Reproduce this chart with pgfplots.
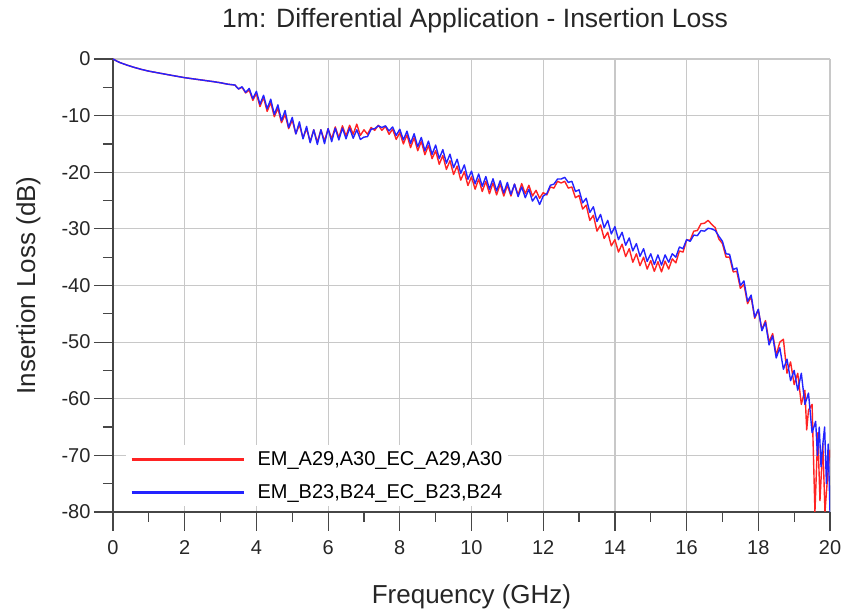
\documentclass[border=0pt]{standalone}
\usepackage{pgfplots}
\pgfplotsset{compat=1.18}
\usepackage{fontspec}
\setmainfont{Liberation Sans}
\definecolor{myred}{RGB}{255,35,35}
\definecolor{myblue}{RGB}{35,35,255}
\definecolor{gridgray}{RGB}{200,200,200}
\definecolor{axgray}{RGB}{70,70,70}
\begin{document}
\begin{tikzpicture}
\begin{axis}[
 scale only axis, width=717pt, height=453pt,
 xmin=0,xmax=20,ymin=-80,ymax=0,
 axis x line=bottom, axis y line=left,
 axis line style={-, line width=1.5pt, axgray},
 xtick={0,2,...,20}, ytick={-80,-70,...,0},
 minor x tick num=1, minor y tick num=1,
 tick align=outside, major tick length=19pt, minor tick length=10pt,
 tick style={axgray, line width=1.2pt},
 grid=major, major grid style={gridgray, line width=1.2pt},
 ticklabel style={font=\fontsize{20}{24}\selectfont, text=black!85},
 xticklabel style={yshift=-6pt},
 /pgf/number format/assume math mode=true,
 xlabel={Frequency (GHz)}, ylabel={Insertion Loss (dB)},
 label style={font=\fontsize{26}{31}\selectfont, text=black!85},
 xlabel style={at={(axis description cs:0.5,-0.188)}, anchor=center},
 ylabel style={at={(axis description cs:-0.118,0.5)}, anchor=center},
 title={1m: Differential Application - Insertion Loss},
 title style={at={(axis description cs:0.505,1.072)}, anchor=center, font=\fontsize{26.5}{31}\selectfont, text=black!85},
 legend style={at={(axis description cs:0.018,0.012)}, anchor=south west, draw=none, fill=white,
   font=\fontsize{20}{24}\selectfont, row sep=14pt, inner sep=4pt},
 legend cell align=left,
 legend image code/.code={\draw[#1, line width=3pt] (0pt,0pt) -- (112pt,0pt); \path[draw=none, fill=none] (0pt,0pt) rectangle (124pt,0.1pt);},
 line join=round,
]
\addplot[myred, line width=1.4pt] table {
0 0
0.1 -0.35
0.2 -0.65
0.4 -1.1
0.6 -1.5
0.8 -1.85
1.0 -2.15
1.3 -2.5
1.6 -2.85
2.0 -3.3
2.4 -3.65
2.8 -4.0
3.0 -4.2
3.2 -4.45
3.4 -4.6
3.5 -5.3
3.6 -5.0
3.7 -6.0
3.8 -5.5
3.9 -7.3
4.0 -6.1
4.1 -8.4
4.2 -6.8
4.3 -9.25
4.4 -7.7
4.5 -10.2
4.6 -8.7
4.7 -11.25
4.8 -9.8
4.9 -12.3
5.0 -10.8
5.1 -13.2
5.2 -11.6
5.3 -13.95
5.4 -12.3
5.5 -14.6
5.6 -12.5
5.7 -14.7
5.8 -12.5
5.9 -14.5
6.0 -12.3
6.1 -14.1
6.2 -12.0
6.3 -13.9
6.4 -11.8
6.5 -13.6
6.6 -11.7
6.7 -13.3
6.8 -11.5
6.9 -13.5
7.0 -12.5
7.1 -13.3
7.2 -12.1
7.3 -12.6
7.4 -11.7
7.5 -12.6
7.6 -11.9
7.7 -13.3
7.8 -12.4
7.9 -14.2
8.0 -13.0
8.1 -15.0
8.2 -13.4
8.3 -15.65
8.4 -13.9
8.5 -16.2
8.6 -14.55
8.7 -16.9
8.8 -15.25
8.9 -17.6
9.0 -16.2
9.1 -18.6
9.2 -17.05
9.3 -19.5
9.4 -17.95
9.5 -20.4
9.6 -18.9
9.7 -21.4
9.8 -19.9
9.9 -22.35
10.0 -20.8
10.1 -23.0
10.2 -21.2
10.3 -23.4
10.4 -21.6
10.5 -23.8
10.6 -21.9
10.7 -24.0
10.8 -22.1
10.9 -24.2
11.0 -22.3
11.1 -24.2
11.2 -22.1
11.3 -24.0
11.4 -22.0
11.5 -23.8
11.6 -22.3
11.7 -24.2
11.8 -23.2
11.9 -24.6
12.0 -23.6
12.1 -24.0
12.2 -22.6
12.3 -22.8
12.4 -21.6
12.5 -21.9
12.6 -21.6
12.7 -22.8
12.8 -22.6
12.9 -24.5
13.0 -24.1
13.1 -26.5
13.2 -25.8
13.3 -28.5
13.4 -27.6
13.5 -30.4
13.6 -29.3
13.7 -31.7
13.8 -30.6
13.9 -33.0
14.0 -31.9
14.1 -34.1
14.2 -32.7
14.3 -34.9
14.4 -33.5
14.5 -35.9
14.6 -34.4
14.7 -36.5
14.8 -35.0
14.9 -37.1
15.0 -35.6
15.1 -37.5
15.2 -35.8
15.3 -37.6
15.4 -35.7
15.5 -37.1
15.6 -35.3
15.7 -36.0
15.8 -33.9
15.9 -34.1
16.0 -32.0
16.1 -32.0
16.2 -30.4
16.3 -30.3
16.4 -29.1
16.5 -29.0
16.6 -28.5
16.7 -29.2
16.8 -29.8
16.9 -31.8
17.0 -32.6
17.1 -35.0
17.2 -35.0
17.3 -37.6
17.4 -37.5
17.5 -40.5
17.6 -39.8
17.7 -43.2
17.8 -42.0
17.9 -45.8
18.0 -44.3
18.1 -47.8
18.2 -46.2
18.3 -50.0
18.4 -48.5
18.5 -52.3
18.6 -50.0
18.7 -49.5
18.8 -55.5
18.9 -53.5
19.0 -57.5
19.1 -55.5
19.2 -61.0
19.3 -58.5
19.35 -65.5
19.4 -62
19.5 -61
19.58 -80
19.66 -66
19.72 -78
19.8 -68
19.86 -80
19.93 -74
20.0 -69
};
\addlegendentry{EM\_A29,A30\_EC\_A29,A30}
\addplot[myblue, line width=1.4pt] table {
0 0
0.1 -0.35
0.2 -0.65
0.4 -1.1
0.6 -1.5
0.8 -1.85
1.0 -2.15
1.3 -2.5
1.6 -2.85
2.0 -3.3
2.4 -3.65
2.8 -4.0
3.0 -4.2
3.2 -4.45
3.4 -4.6
3.5 -5.3
3.6 -4.9
3.7 -5.9
3.8 -5.2
3.9 -7.0
4.0 -5.7
4.1 -8.0
4.2 -6.4
4.3 -8.8
4.4 -7.1
4.5 -9.8
4.6 -8.1
4.7 -10.9
4.8 -9.1
4.9 -12.1
5.0 -10.3
5.1 -13.25
5.2 -11.1
5.3 -14.1
5.4 -11.9
5.5 -14.8
5.6 -12.5
5.7 -15.1
5.8 -12.5
5.9 -14.95
6.0 -12.3
6.1 -14.6
6.2 -12.2
6.3 -14.3
6.4 -12.2
6.5 -14.1
6.6 -12.2
6.7 -14.0
6.8 -12.5
6.9 -14.2
7.0 -13.8
7.1 -13.7
7.2 -12.4
7.3 -12.3
7.4 -11.8
7.5 -12.1
7.6 -11.8
7.7 -12.7
7.8 -12.0
7.9 -13.5
8.0 -12.4
8.1 -14.3
8.2 -12.75
8.3 -14.9
8.4 -13.2
8.5 -15.5
8.6 -13.85
8.7 -16.2
8.8 -14.5
8.9 -16.85
9.0 -15.2
9.1 -17.6
9.2 -16.0
9.3 -18.4
9.4 -16.8
9.5 -19.2
9.6 -17.7
9.7 -20.2
9.8 -18.7
9.9 -21.25
10.0 -19.8
10.1 -22.05
10.2 -20.3
10.3 -22.5
10.4 -20.75
10.5 -23.0
10.6 -21.15
10.7 -23.3
10.8 -21.5
10.9 -23.65
11.0 -21.8
11.1 -23.9
11.2 -22.1
11.3 -24.3
11.4 -22.6
11.5 -24.5
11.6 -23.0
11.7 -25.1
11.8 -24.2
11.9 -25.7
12.0 -24.2
12.1 -23.8
12.2 -22.3
12.3 -22.1
12.4 -21.2
12.5 -21.2
12.6 -20.9
12.7 -21.8
12.8 -21.6
12.9 -23.4
13.0 -23.1
13.1 -25.4
13.2 -24.6
13.3 -27.1
13.4 -26.1
13.5 -28.7
13.6 -27.45
13.7 -29.8
13.8 -28.5
13.9 -30.9
14.0 -29.6
14.1 -31.9
14.2 -30.6
14.3 -32.9
14.4 -31.6
14.5 -33.9
14.6 -32.6
14.7 -34.85
14.8 -33.5
14.9 -35.75
15.0 -34.4
15.1 -36.3
15.2 -34.6
15.3 -36.4
15.4 -34.6
15.5 -35.9
15.6 -34.4
15.7 -35.0
15.8 -33.2
15.9 -33.5
16.0 -31.9
16.1 -32.2
16.2 -31.1
16.3 -31.2
16.4 -30.3
16.5 -30.4
16.6 -29.9
16.7 -30.0
16.8 -30.3
16.9 -31.3
17.0 -32.2
17.1 -34.4
17.2 -34.5
17.3 -37.2
17.4 -36.9
17.5 -40.0
17.6 -39.2
17.7 -42.8
17.8 -41.7
17.9 -45.6
18.0 -44.2
18.1 -48.0
18.2 -46.5
18.3 -50.5
18.4 -48.9
18.5 -52.8
18.6 -51.0
18.7 -54.8
18.8 -53.0
18.9 -56.8
19.0 -55.0
19.1 -58.5
19.2 -55.5
19.3 -61
19.4 -59
19.5 -66
19.6 -64
19.65 -70
19.7 -65
19.75 -72
19.8 -68
19.85 -65
19.9 -75
19.95 -68
20.0 -80
};
\addlegendentry{EM\_B23,B24\_EC\_B23,B24}
\end{axis}
\pgfresetboundingbox
\path ([xshift=-113pt,yshift=-100pt]current axis.south west) rectangle ([xshift=16pt,yshift=59pt]current axis.north east);
\end{tikzpicture}
\end{document}
